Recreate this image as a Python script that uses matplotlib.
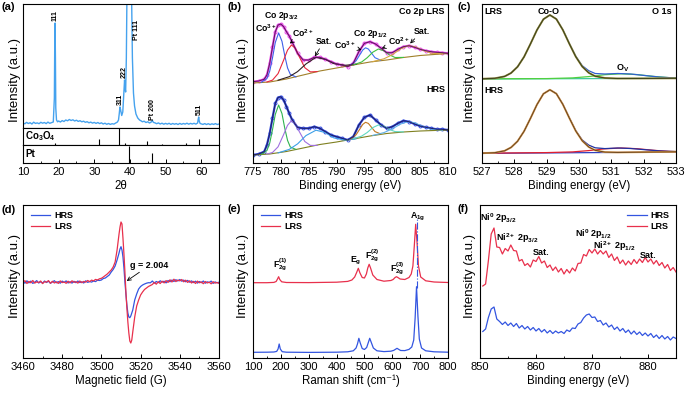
import matplotlib
matplotlib.use('Agg')
import numpy as np
from matplotlib import pyplot as plt
from matplotlib.ticker import AutoMinorLocator

plt.rcParams['font.family'] = ['Liberation Sans', 'DejaVu Sans']
plt.rcParams['mathtext.fontset'] = 'custom'
plt.rcParams['mathtext.rm'] = 'Liberation Sans:bold'
plt.rcParams['mathtext.it'] = 'Liberation Sans:bold'
plt.rcParams['mathtext.bf'] = 'Liberation Sans:bold'
plt.rcParams['mathtext.default'] = 'rm'

W, H = 685, 394

# ---------------- (a) XRD ----------------
xrd_x = [10, 10.5, 11, 11.5, 12, 12.5, 13, 13.5, 14, 14.5, 15, 15.5, 16, 16.5, 17, 17.5, 18, 18.5,
         18.8, 18.9, 19.0, 19.1, 19.2, 19.4, 19.7, 20, 20.5, 21, 21.5, 22, 22.5, 23, 23.5, 24, 24.5,
         25, 25.5, 26, 26.5, 27, 27.5, 28, 28.5, 29, 29.5, 30, 30.5, 31, 31.5, 32, 32.5, 33, 33.5,
         34, 34.5, 35, 35.5, 36, 36.5, 36.8, 37.0, 37.2, 37.4, 37.7, 38.0, 38.3, 38.5, 38.65, 38.8,
         39.0, 39.15, 39.5, 40.1, 40.5, 40.7, 41.0, 41.3, 41.7, 42.2, 42.7, 43.2, 43.5, 44, 44.5, 45,
         45.5, 46, 46.3, 46.6, 47, 47.5, 48, 48.5, 49, 49.5, 50, 50.5, 51, 51.5, 52, 52.5, 53, 53.5,
         54, 54.5, 55, 55.5, 56, 56.5, 57, 57.5, 58, 58.5, 59.0, 59.15, 59.3, 59.45, 59.7, 60, 60.5,
         61, 61.5, 62, 62.5, 63, 63.5, 64, 64.5, 65]
xrd_y = [5.0, 4.2, 5.6, 4.5, 5.3, 4.0, 5.8, 4.6, 5.1, 4.3, 5.7, 4.8, 5.5, 4.4, 5.9, 4.7, 5.4, 6.0,
         30, 80, 105, 70, 20, 8.0, 6.2, 7.0, 6.0, 7.4, 6.5, 8.0, 7.2, 8.5, 7.5, 8.2, 7.0,
         7.8, 6.6, 7.3, 6.2, 6.8, 5.7, 6.3, 5.2, 5.9, 4.9, 5.6, 4.6, 5.5, 4.4, 5.2, 4.0, 4.8, 3.7,
         4.5, 3.6, 4.3, 3.9, 5.0, 6.0, 8.0, 14, 21, 18, 12.5, 16, 35, 48, 40, 36,
         70, 124, 400, 400, 124, 70, 35, 22, 14, 10, 8.0, 7.0, 6.2, 6.8, 5.5, 6.2,
         5.0, 6.0, 7.5, 5.6, 5.2, 4.3, 5.1, 4.0, 4.8, 3.8, 4.6, 3.9, 4.7, 3.6, 4.5, 3.8, 4.4, 3.5,
         4.6, 3.7, 4.5, 3.9, 4.8, 3.8, 4.6, 4.0, 4.7, 3.9, 5.0, 8.5, 11.0, 7.0, 4.5, 4.2, 3.6,
         4.4, 3.5, 4.3, 3.4, 4.2, 3.6, 4.4, 3.5, 4.0]
co3o4_pos = [19.0, 31.3, 36.9, 38.5, 44.8, 49.1, 55.7, 59.4]
co3o4_int = [0.12, 0.38, 1.0, 0.1, 0.24, 0.08, 0.14, 0.38]
pt_pos = [39.8, 46.3]
pt_int = [0.95, 0.55]
xrd_labels = ['111', '311', '222', 'Pt 200', '511']
xrd_label_x = [19.0, 37.2, 38.5, 46.4, 59.4]
xrd_label_y = [107, 23, 50, 8, 13]

# ---------------- (b) Co 2p XPS ----------------
co_x = [775, 776, 777, 777.5, 778, 778.5, 779, 779.5, 780, 780.5, 781, 781.5, 782, 783, 784, 785,
        786, 787, 788, 789, 790, 791, 792, 793, 794, 795, 796, 797, 798, 799, 800, 801, 802,
        803, 804, 805, 806, 807, 808, 809, 810]
co_lrs = [81.3, 82.0, 83.7, 88.0, 99.7, 116.0, 131.3, 138.0, 139.0, 136.3, 131.3, 127.0, 121.3,
          109.7, 103.0, 103.0, 105.7, 105.7, 103.7, 101.3, 99.0, 98.0, 96.3, 99.7, 111.3, 119.7,
          121.3, 119.0, 114.7, 110.3, 110.3, 113.7, 116.3, 117.3, 115.7, 113.7, 112.3, 111.3,
          110.7, 110.3, 109.7]
co_hrs = [8.0, 9.0, 11.3, 18.0, 29.7, 45.0, 59.7, 65.5, 66.3, 63.0, 56.5, 49.7, 43.5, 35.5, 34.7,
          34.7, 36.3, 34.7, 31.3, 28.0, 26.3, 24.7, 23.0, 26.3, 38.0, 45.7, 48.0, 43.0, 38.0, 34.7,
          36.3, 39.7, 42.3, 41.3, 39.0, 37.0, 35.7, 34.7, 33.7, 33.7, 33.0]
bg_x = [775, 778, 781, 784, 787, 790, 793, 796, 799, 802, 805, 810]
bg_lrs = [80, 81, 84, 88, 92, 95, 98, 101, 103, 105.5, 107.5, 109.5]
bg_hrs = [8, 9, 11.5, 15, 18.5, 21, 24, 27, 29.5, 31, 32, 33]

p1_x = [776.5, 777.5, 778, 778.5, 779, 779.6, 780.2, 780.7, 781.2, 781.7, 782.7]
p1_lrs = [80.7, 84.5, 91.8, 105.1, 120.5, 130.1, 121.7, 107.3, 95.1, 88.6, 86.1]
p1_hrs = [8.7, 12.5, 19.9, 33.3, 48.6, 58.0, 49.4, 34.8, 22.6, 16.0, 13.6]
p2_x = [777.5, 778.5, 779.5, 780.5, 781.2, 781.9, 782.6, 783.3, 784.3, 785.3, 786.5]
p2_lrs = [81.0, 82.9, 89.4, 102.9, 112.9, 118.0, 114.8, 106.4, 95.3, 91.1, 91.4]
p2_hrs = [8.9, 10.5, 16.2, 28.5, 37.7, 42.3, 39.4, 31.5, 21.5, 17.6, 17.6]
p3_x = [779.5, 781.5, 783, 784.5, 786.3, 788, 789.5, 791.5, 793.5]
p3_lrs = [82.8, 86.3, 91.4, 99.0, 105.7, 103.6, 99.4, 97.7, 98.7]
p3_hrs = [10.1, 13.6, 19.1, 27.4, 32.8, 30.4, 25.1, 22.9, 24.2]
p4_x = [792.5, 793.5, 794.2, 794.7, 795.2, 795.7, 796.2, 796.9, 797.9]
p4_lrs = [98.0, 102.2, 108.5, 113.0, 115.2, 114.0, 110.4, 105.3, 102.8]
p4_hrs = [24.0, 28.2, 34.2, 38.6, 40.7, 39.6, 36.2, 31.4, 29.1]
p5_x = [793, 794.5, 795.5, 796.5, 797.5, 798.5, 799.5, 800.5, 802]
p5_lrs = [98.1, 101.0, 105.3, 110.8, 114.0, 112.2, 108.1, 105.5, 105.6]
p5_hrs = [24.2, 26.9, 30.5, 35.4, 38.0, 36.8, 33.5, 31.4, 31.1]
p6_x = [796.5, 798.5, 800, 801.5, 802.8, 804, 805.5, 807, 809]
p6_lrs = [101.4, 104.2, 108.3, 114.1, 117.3, 116.3, 112.7, 109.8, 109.1]
p6_hrs = [27.6, 30.4, 34.1, 39.0, 41.3, 40.2, 36.5, 33.8, 32.9]

# ---------------- (c) O 1s XPS ----------------
o_x = [527.0, 527.4, 527.7, 527.9, 528.1, 528.3, 528.5, 528.7, 528.9, 529.1, 529.3, 529.5, 529.7,
       529.9, 530.1, 530.3, 530.5, 530.8, 531.2, 531.6, 532.0, 532.5, 533.0]
o_lrs = [84.2, 84.7, 86.6, 90.0, 96.2, 106.1, 119.2, 133.0, 143.8, 148.0, 144.0, 133.3, 119.6,
         106.8, 97.3, 92.3, 89.5, 89.0, 89.5, 89.0, 87.6, 85.9, 85.0]
o_hrs = [9.8, 10.3, 12.2, 15.6, 21.8, 31.7, 44.7, 58.4, 69.2, 73.2, 69.4, 58.8, 45.3, 32.4, 23.0,
         17.9, 15.2, 14.4, 15.0, 14.5, 13.4, 12.1, 11.4]
coo_x = [527.0, 527.4, 527.7, 527.9, 528.1, 528.3, 528.5, 528.7, 528.9, 529.1, 529.3, 529.5,
         529.7, 529.9, 530.1, 530.3, 530.5, 530.8, 531.2, 533.0]
coo_lrs = [84.2, 84.7, 86.6, 90.0, 96.2, 106.1, 119.2, 133.0, 143.8, 148.0, 143.9, 133.1, 119.3,
           106.3, 96.4, 90.2, 86.8, 85.0, 84.5, 84.7]
coo_hrs = [9.8, 10.3, 12.2, 15.6, 21.8, 31.7, 44.7, 58.4, 69.2, 73.2, 69.3, 58.6, 45.0, 32.0,
           22.2, 16.0, 12.7, 10.9, 10.6, 11.2]
ov_x = [527.0, 529.0, 529.8, 530.3, 530.8, 531.3, 531.8, 532.3, 532.8, 533.0]
ov_lrs = [84.2, 84.4, 85.1, 86.4, 88.3, 89.2, 88.4, 86.6, 85.3, 85.0]
ov_hrs = [9.8, 10.4, 11.1, 12.4, 14.2, 15.0, 14.3, 12.7, 11.6, 11.4]
obg_x = [527.0, 533.0]
obg_lrs = [84.0, 84.7]
obg_hrs = [9.6, 11.0]

# ---------------- (d) EPR ----------------
epr_hrs_x = list(range(3460, 3500)) + [3500, 3501, 3502, 3503, 3504, 3505, 3506, 3507, 3508, 3509,
                                       3509.5, 3510, 3510.5, 3511, 3511.5, 3512, 3512.5, 3513,
                                       3513.5, 3514, 3514.5, 3515, 3516, 3517, 3518, 3519, 3520,
                                       3521, 3522, 3523, 3524] + list(range(3525, 3561))
epr_hrs = [76.5, 74.8, 77.2, 75.1, 76.9, 74.6, 75.8, 77.4, 75.0, 76.2, 74.9, 77.0, 75.5, 76.8,
           74.7, 76.0, 77.3, 75.2, 76.4, 74.8, 76.9, 75.6, 77.1, 75.0, 76.3, 74.9, 76.7, 75.3,
           77.0, 75.4, 76.2, 75.0, 77.2, 75.6, 76.5, 75.9, 77.0, 76.4, 77.8, 77.5,
           78, 79.5, 80, 81.5, 83, 86, 88.5, 92, 98, 105, 109, 111.3, 108, 101, 90, 76, 64, 53,
           45, 41, 40.3, 42, 48, 58, 64, 69, 71.5, 73, 74, 74.8, 75.3,
           75.2, 77.0, 74.8, 76.5, 75.4, 77.2, 75.9, 76.8, 75.1, 77.5, 76.2, 78.0, 76.5, 78.3,
           77.0, 78.5, 76.8, 77.9, 76.2, 77.6, 75.8, 77.1, 75.4, 76.8, 74.9, 76.5, 75.3, 77.0,
           74.8, 76.2, 75.5, 76.9, 74.6, 76.1, 75.2, 75.8]
epr_lrs_x = list(range(3460, 3500)) + [3500, 3501, 3502, 3503, 3504, 3505, 3506, 3507, 3508,
                                       3508.5, 3509, 3509.5, 3510, 3510.5, 3511, 3511.5, 3512,
                                       3512.5, 3513, 3513.5, 3514, 3514.5, 3515, 3515.5, 3516,
                                       3517, 3518, 3519, 3520, 3521, 3522, 3523, 3524,
                                       3525] + list(range(3526, 3561))
epr_lrs = [75.8, 77.3, 74.5, 76.6, 75.2, 77.5, 74.9, 76.1, 75.5, 77.0, 74.4, 76.3, 75.9, 77.4,
           74.8, 76.7, 75.0, 76.2, 74.6, 77.1, 75.4, 76.0, 74.7, 76.8, 75.1, 77.2, 75.6, 76.4,
           74.9, 77.0, 75.3, 76.6, 75.8, 77.5, 76.3, 77.9, 77.1, 78.6, 78.0, 79.2,
           79.7, 81, 82.5, 84, 86, 88, 91, 96, 108, 116, 124, 131, 136, 134, 120, 104, 86, 66,
           50, 36, 25, 17, 15, 18, 26, 41, 52, 58, 63, 66, 68.5, 70, 71.5, 72.5,
           73.5, 75.6, 73.8, 76.2, 74.5, 76.8, 75.1, 77.4, 75.6, 78.2, 76.0, 78.8, 76.4, 78.0,
           77.1, 78.5, 76.2, 77.8, 75.6, 77.2, 75.0, 76.6, 74.5, 76.9, 75.2, 76.1, 74.3, 76.5,
           75.0, 75.8, 74.2, 76.3, 74.9, 75.5, 74.6]

# ---------------- (e) Raman ----------------
ram_hrs_x = [100, 150, 175, 185, 190, 194, 198, 205, 220, 300, 400, 440, 460, 470, 475, 480, 485,
             492, 500, 508, 514, 519, 524, 532, 545, 570, 595, 605, 612, 617, 622, 630, 645, 660,
             670, 677, 682, 687, 692, 697, 705, 720, 750, 800]
ram_hrs = [5.7, 5.8, 6.0, 6.6, 9, 14, 9, 6.3, 5.8, 5.6, 5.8, 6.2, 7.2, 10, 14, 19.7, 15, 9.5, 8.5,
           10.5, 15.5, 19.7, 16, 10, 7.2, 6.4, 6.8, 7.6, 8.8, 9.7, 8.8, 7.5, 7.4, 8.6, 11, 18, 40,
           71.3, 42, 19, 10, 7.2, 6.2, 5.8]
ram_lrs_x = [100, 150, 175, 183, 188, 192, 196, 203, 220, 300, 400, 440, 455, 465, 472, 478, 484,
             492, 500, 507, 512, 517, 522, 530, 545, 570, 595, 603, 610, 615, 620, 628, 645, 660,
             668, 674, 679, 684, 689, 694, 702, 720, 750, 800]
ram_lrs = [75.3, 75.3, 75.6, 76.5, 79, 81.3, 78.5, 76.2, 75.5, 75.4, 75.8, 76.6, 78, 81, 85.5,
           89.7, 85, 80.5, 80, 84, 90, 93.7, 90, 83, 78.5, 76.8, 77.5, 78.5, 80.5, 81.3, 80.5, 79,
           78.5, 80.5, 84, 92, 112, 133.7, 115, 92, 81, 77.2, 76, 75.5]
raman_modes = [r'F$_{2g}^{(1)}$', r'E$_g$', r'F$_{2g}^{(2)}$', r'F$_{2g}^{(3)}$', r'A$_{1g}$']
raman_mode_x = [199, 470, 530, 618, 691]
raman_mode_y = [93, 97, 102, 89, 141]

# ---------------- (f) Ni 2p XPS ----------------
ni_x = np.arange(850.5, 885.01, 0.5)
ni_lrs = [72.0, 74.0, 97.5, 124.0, 130.0, 111.0, 110.5, 104.0, 109.5, 107.0,
          113.0, 107.5, 107.0, 97.0, 98.5, 92.5, 94.5, 91.0, 98.0, 96.5,
          101.5, 95.0, 97.0, 90.5, 93.0, 87.5, 91.0, 86.0, 89.5, 84.0,
          88.5, 85.0, 90.0, 87.0, 94.5, 95.0, 103.5, 102.0, 108.5, 105.0,
          109.0, 104.0, 107.5, 104.0, 107.0, 100.5, 104.0, 97.5, 101.0, 94.5,
          98.0, 93.0, 97.0, 93.5, 98.5, 94.5, 99.0, 95.5, 100.5, 96.0,
          99.0, 94.0, 97.5, 92.5, 95.5, 90.0, 93.5, 87.5, 90.5, 86.0]
ni_hrs = [26.5, 29.0, 40.5, 49.0, 51.0, 39.0, 36.5, 33.5, 36.0, 32.5,
          35.0, 31.5, 34.5, 30.0, 32.5, 29.0, 31.5, 28.0, 30.5, 27.0,
          29.5, 26.0, 28.5, 25.0, 27.5, 24.5, 27.0, 25.0, 26.5, 24.5,
          28.0, 26.5, 30.0, 29.5, 34.0, 35.5, 40.0, 43.0, 44.0, 40.5,
          41.0, 36.5, 37.5, 33.0, 35.0, 31.0, 33.0, 28.5, 31.0, 27.0,
          29.5, 25.5, 28.0, 24.0, 27.0, 23.5, 26.0, 22.5, 25.0, 22.0,
          24.5, 20.5, 23.0, 19.5, 22.5, 19.0, 21.5, 18.0, 21.0, 19.5]
ni_labels = [r'Ni$^0$ 2p$_{3/2}$', r'Ni$^{2+}$ 2p$_{3/2}$', 'Sat.', r'Ni$^0$ 2p$_{1/2}$',
             r'Ni$^{2+}$ 2p$_{1/2}$', 'Sat.']
ni_label_x = [853.3, 856.7, 860.9, 870.3, 873.9, 880.1]
ni_label_y = [140, 120, 105.5, 124, 111.5, 103]

BLUE = '#3355e0'
RED = '#e8304c'
TICK = 8
LAB = 8.3
ANN = 6.3


def rect(l, t, r, b):
    return [l / W, 1 - b / H, (r - l) / W, (b - t) / H]


def style(ax, ticks=True):
    ax.set_yticks([])
    for s in ax.spines.values():
        s.set_linewidth(0.8)
    if ticks:
        ax.xaxis.set_minor_locator(AutoMinorLocator(2))
        ax.tick_params(axis='x', which='major', direction='in', length=3, width=0.7,
                       labelsize=TICK, pad=3)
        ax.tick_params(axis='x', which='minor', direction='in', length=1.6, width=0.6)
    else:
        ax.set_xticks([])


def legend(ax, loc, anchor):
    ax.legend(loc=loc, bbox_to_anchor=anchor, frameon=False, handlelength=2.2,
              handletextpad=0.4, labelspacing=0.25, borderaxespad=0,
              prop={'weight': 'bold', 'size': 6.5})


fig = plt.figure(figsize=(W / 100, H / 100), dpi=100)

# (a)
ax = fig.add_axes(rect(23, 4, 219, 128))
ax.plot(xrd_x, xrd_y, color='#45a2ee', lw=1.0)
ax.set_xlim(10, 65)
ax.set_ylim(0, 124)
style(ax, ticks=False)
for t, x, y in zip(xrd_labels, xrd_label_x, xrd_label_y):
    ax.text(x, y, t, rotation=90, ha='center', va='bottom', fontsize=5, fontweight='bold')
ax.text(41.9, 108, 'Pt 111', rotation=90, ha='center', va='top', fontsize=5, fontweight='bold')

ax = fig.add_axes(rect(23, 128, 219, 145))
ax.vlines(co3o4_pos, 0, co3o4_int, color='k', lw=0.8)
ax.set_xlim(10, 65)
ax.set_ylim(0, 1)
style(ax, ticks=False)
ax.text(10.6, 0.5, r'Co$_3$O$_4$', va='center', fontsize=7, fontweight='bold')

ax = fig.add_axes(rect(23, 145, 219, 163))
ax.vlines(pt_pos, 0, pt_int, color='k', lw=0.8)
ax.set_xlim(10, 65)
ax.set_ylim(0, 1)
style(ax)
ax.set_xticks([10, 20, 30, 40, 50, 60])
ax.text(10.6, 0.5, 'Pt', va='center', fontsize=7, fontweight='bold')
ax.set_xlabel('2θ', fontsize=LAB, labelpad=2)

# (b)
ax = fig.add_axes(rect(253, 4, 448, 163))
ax.plot(co_x, co_lrs, color='#e845e8', lw=1.6, marker='o', ms=2.2, mfc='none', mew=0.6)
ax.plot(bg_x, bg_lrs, color='#a0802a', lw=0.8)
ax.plot(p1_x, p1_lrs, color='#3f5fe8', lw=0.8)
ax.plot(p2_x, p2_lrs, color='#e8283c', lw=0.8)
ax.plot(p3_x, p3_lrs, color='#302020', lw=0.8)
ax.plot(p4_x, p4_lrs, color='#4070f0', lw=0.8)
ax.plot(p5_x, p5_lrs, color='#40c040', lw=0.8)
ax.plot(p6_x, p6_lrs, color='#d4a640', lw=0.8)
ax.plot(co_x, co_lrs, color='#5a1a5a', lw=0.7)
ax.plot(co_x, co_hrs, color='#3048e0', lw=1.6, marker='o', ms=2.2, mfc='none', mew=0.6)
ax.plot(bg_x, bg_hrs, color='#7f8020', lw=0.8)
ax.plot(p1_x, p1_hrs, color='#2fb34f', lw=0.8)
ax.plot(p2_x, p2_hrs, color='#a070e0', lw=0.8)
ax.plot(p3_x, p3_hrs, color='#3da0e8', lw=0.8)
ax.plot(p4_x, p4_hrs, color='#c07820', lw=0.8)
ax.plot(p5_x, p5_hrs, color='#60d8c0', lw=0.8)
ax.plot(p6_x, p6_hrs, color='#60b0e8', lw=0.8)
ax.plot(co_x, co_hrs, color='#202060', lw=0.7)
ax.set_xlim(775, 810)
ax.set_ylim(0, 159)
style(ax)
ax.set_xticks(range(775, 811, 5))
ax.set_xlabel('Binding energy (eV)', fontsize=LAB, labelpad=2)
ax.text(809.3, 152, 'Co 2p LRS', ha='right', va='center', fontsize=6.5, fontweight='bold')
ax.text(809.6, 73, 'HRS', ha='right', va='center', fontsize=6.5, fontweight='bold')
ax.text(780.1, 146.5, r'Co 2p$_{3/2}$', ha='center', va='center', fontsize=ANN,
        fontweight='bold')
ax.text(796.1, 129, r'Co 2p$_{1/2}$', ha='center', va='center', fontsize=ANN, fontweight='bold')
ax.text(777.3, 135, r'Co$^{3+}$', ha='center', va='center', fontsize=ANN, fontweight='bold')
arrow = dict(arrowstyle='->', lw=0.6, color='k', shrinkA=0, shrinkB=0)
ax.annotate(r'Co$^{2+}$', xy=(781.6, 119.5), xytext=(784.0, 130), ha='center', va='center',
            fontsize=ANN, fontweight='bold', arrowprops=arrow)
ax.annotate('Sat.', xy=(786.1, 106.5), xytext=(787.7, 121.5), ha='center', va='center',
            fontsize=ANN, fontweight='bold', arrowprops=arrow)
ax.annotate(r'Co$^{3+}$', xy=(794.5, 113), xytext=(791.5, 118), ha='center', va='center',
            fontsize=ANN, fontweight='bold', arrowprops=arrow)
ax.annotate(r'Co$^{2+}$', xy=(798.1, 114.5), xytext=(801.1, 121.5), ha='center', va='center',
            fontsize=ANN, fontweight='bold', arrowprops=arrow)
ax.annotate('Sat.', xy=(803.2, 119.5), xytext=(805.3, 131.5), ha='center', va='center',
            fontsize=ANN, fontweight='bold', arrowprops=arrow)

# (c)
ax = fig.add_axes(rect(482, 4, 676, 163))
ax.plot(obg_x, obg_lrs, color='#40c8a0', lw=0.9)
ax.plot(ov_x, ov_lrs, color='#50d040', lw=0.9)
ax.plot(o_x, o_lrs, color='#3060d0', lw=0.9)
ax.plot(coo_x, coo_lrs, color='#9a8a3a', lw=1.4)
ax.plot(coo_x, coo_lrs, color='#2f3a18', lw=0.6)
ax.plot(obg_x, obg_hrs, color='#3040c0', lw=0.9)
ax.plot(ov_x, ov_hrs, color='#e02030', lw=0.9)
ax.plot(o_x, o_hrs, color='#2030a0', lw=0.9)
ax.plot(coo_x, coo_hrs, color='#e0a050', lw=1.4)
ax.plot(coo_x, coo_hrs, color='#5a3a18', lw=0.6)
ax.set_xlim(527, 533)
ax.set_ylim(0, 159)
style(ax)
ax.set_xticks(range(527, 534))
ax.set_xlabel('Binding energy (eV)', fontsize=LAB, labelpad=2)
ax.text(527.08, 152, 'LRS', va='center', fontsize=6.5, fontweight='bold')
ax.text(529.05, 152, 'Co-O', ha='center', va='center', fontsize=6.5, fontweight='bold')
ax.text(532.88, 152, 'O 1s', ha='right', va='center', fontsize=6.5, fontweight='bold')
ax.text(531.34, 95, r'O$_V$', ha='center', va='center', fontsize=6.5, fontweight='bold')
ax.text(527.08, 72.5, 'HRS', va='center', fontsize=6.5, fontweight='bold')

# (d)
ax = fig.add_axes(rect(23, 205, 219, 358))
ax.plot(epr_hrs_x, epr_hrs, color=BLUE, lw=0.9, label='HRS')
ax.plot(epr_lrs_x, epr_lrs, color=RED, lw=0.9, label='LRS')
ax.set_xlim(3460, 3560)
ax.set_ylim(0, 153)
style(ax)
ax.set_xticks(range(3460, 3561, 20))
ax.set_xlabel('Magnetic field (G)', fontsize=LAB, labelpad=2)
legend(ax, 'upper left', (0.02, 0.985))
ax.annotate('g = 2.004', xy=(3512.9, 77), xytext=(3514.6, 93), ha='left', va='center',
            fontsize=6.5, fontweight='bold',
            arrowprops=dict(arrowstyle='->', lw=0.6, color='k', shrinkA=0, shrinkB=0,
                            relpos=(0.35, 0)))

# (e)
ax = fig.add_axes(rect(253, 205, 448, 358))
ax.plot(ram_hrs_x, ram_hrs, color=BLUE, lw=0.9, label='HRS')
ax.plot(ram_lrs_x, ram_lrs, color=RED, lw=0.9, label='LRS')
ax.plot([689, 689], [70, 139], color=BLUE, lw=0.8, ls='-.')
ax.set_xlim(100, 800)
ax.set_ylim(0, 153)
style(ax)
ax.set_xticks(range(100, 801, 100))
ax.set_xlabel('Raman shift (cm⁻¹)', fontsize=LAB, labelpad=2)
legend(ax, 'upper left', (0.02, 0.985))
for t, x, y in zip(raman_modes, raman_mode_x, raman_mode_y):
    ax.text(x, y, t, ha='center', va='center', fontsize=ANN, fontweight='bold')

# (f)
ax = fig.add_axes(rect(480, 205, 676, 358))
ax.plot(ni_x, ni_hrs, color=BLUE, lw=0.9, label='HRS')
ax.plot(ni_x, ni_lrs, color=RED, lw=0.9, label='LRS')
ax.set_xlim(850, 885)
ax.set_ylim(0, 153)
style(ax)
ax.set_xticks(range(850, 886, 10))
ax.set_xlabel('Binding energy (eV)', fontsize=LAB, labelpad=2)
legend(ax, 'upper right', (0.985, 0.985))
for t, x, y in zip(ni_labels, ni_label_x, ni_label_y):
    ax.text(x, y, t, ha='center', va='center', fontsize=6.5, fontweight='bold')

# panel letters and y labels
for t, x, y in [('(a)', 1, 7), ('(b)', 227, 7), ('(c)', 457, 7),
                ('(d)', 1, 210), ('(e)', 227, 209), ('(f)', 457, 209)]:
    fig.text(x / W, 1 - y / H, t, ha='left', va='center', fontsize=8, fontweight='bold')
for x, y in [(15, 80), (243, 80), (470, 80), (15, 276), (243, 276), (470, 276)]:
    fig.text(x / W, 1 - y / H, 'Intensity (a.u.)', rotation=90, ha='center', va='center',
             fontsize=9.5)

fig.savefig('out.png', dpi=100)
